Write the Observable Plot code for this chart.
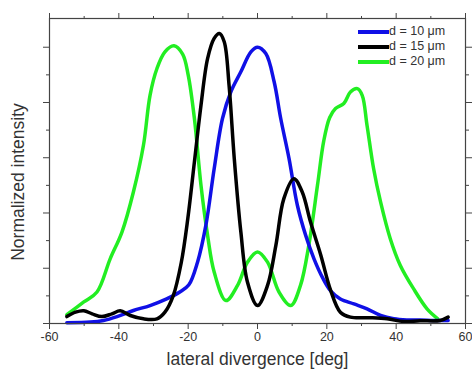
<!DOCTYPE html>
<html>
<head>
<meta charset="utf-8">
<script src="https://cdn.jsdelivr.net/npm/d3@7"></script>
<script src="https://cdn.jsdelivr.net/npm/@observablehq/plot@0.6"></script>
<style>
  html, body { margin: 0; padding: 0; background: #fff; }
  #wrap { position: relative; width: 472px; height: 372px; font-family: "Liberation Sans", Arial, sans-serif; }
  #legend { position: absolute; left: 358px; top: 24px; font-size: 12.5px; color: #333; line-height: 15px; }
  #legend .row { display: flex; align-items: center; height: 15px; }
  #legend .sw { width: 31px; height: 4px; margin-right: 0px; }
</style>
</head>
<body>
<div id="wrap"><div id="legend"></div></div>
<script>
// ---- data ----
const seriesNames = ["d = 10 μm", "d = 15 μm", "d = 20 μm"];
const seriesColors = ["#1010e6", "#000000", "#22ee22"];

const blueX = [-55, -48.2, -44.4, -40.5, -35.8, -31, -26.2, -22.3, -19.8, -17.3, -14.9, -12.5, -10.1, -7.7, -4.8, -1.9, 0, 2.4, 4.8, 6.7, 9.1, 11.5, 13.9, 16.3, 18.8, 21.1, 23.9, 27.8, 31.6, 35.5, 39.3, 43.1, 46.9, 50.8, 55];
const blueY = [0.003, 0.005, 0.011, 0.025, 0.047, 0.065, 0.089, 0.115, 0.14, 0.222, 0.355, 0.56, 0.742, 0.838, 0.911, 0.983, 1.0, 0.977, 0.875, 0.742, 0.597, 0.428, 0.319, 0.234, 0.165, 0.118, 0.089, 0.071, 0.053, 0.029, 0.017, 0.013, 0.013, 0.011, 0.011];

const blackX = [-55, -52.5, -50.1, -47.7, -44.9, -42, -39.6, -36.7, -32.9, -29, -26.7, -24.3, -22, -20.1, -18.2, -16.3, -14.4, -12.5, -11, -9.6, -8.2, -6.7, -4.8, -2.9, 0, 2.9, 5.3, 7.6, 10.5, 12.9, 15.3, 18.2, 21.1, 23.9, 26.8, 32.6, 37.4, 42.2, 46.9, 52.7, 55];
const blackY = [0.025, 0.041, 0.046, 0.035, 0.025, 0.035, 0.046, 0.029, 0.017, 0.017, 0.041, 0.101, 0.22, 0.38, 0.585, 0.79, 0.959, 1.032, 1.05, 1.02, 0.862, 0.597, 0.331, 0.15, 0.065, 0.138, 0.283, 0.452, 0.524, 0.476, 0.367, 0.25, 0.12, 0.041, 0.023, 0.021, 0.017, 0.007, 0.01, 0.011, 0.023];

const greenX = [-55, -50.1, -46.3, -42.5, -39.1, -35.8, -32.9, -31, -29, -26.7, -24.1, -21.6, -20, -18.2, -16.3, -14.4, -12.5, -9.1, -5.75, -2.9, 0, 2.9, 6.2, 9.6, 12.4, 14.8, 17.3, 19.1, 20.8, 22.5, 24.9, 26.8, 28.8, 30.2, 31.6, 33.5, 35.5, 38.3, 41.2, 45, 48.9, 52];
const greenY = [0.032, 0.078, 0.114, 0.234, 0.331, 0.476, 0.645, 0.826, 0.923, 0.983, 1.005, 0.975, 0.9, 0.742, 0.5, 0.319, 0.186, 0.083, 0.138, 0.222, 0.259, 0.222, 0.114, 0.065, 0.138, 0.283, 0.5, 0.66, 0.745, 0.778, 0.796, 0.838, 0.85, 0.826, 0.717, 0.56, 0.44, 0.307, 0.21, 0.126, 0.053, 0.017];

const xMajorTicks = [-60, -40, -20, 0, 20, 40, 60];
const xMinorTicks = [-50, -30, -10, 10, 30, 50];
const yMajorTicks = [0, 0.2, 0.4, 0.6, 0.8, 1.0];
const yMinorTicks = [0.1, 0.3, 0.5, 0.7, 0.9];
const xLabel = "lateral divergence [deg]";
const yLabel = "Normalized intensity";

// ---- build ----
const toRows = (xs, ys, s) => xs.map((x, i) => ({x, y: ys[i], s}));
const blue = toRows(blueX, blueY, seriesNames[0]);
const black = toRows(blackX, blackY, seriesNames[1]);
const green = toRows(greenX, greenY, seriesNames[2]);

const axisColor = "#444";
const lw = 3.5;

const chart = Plot.plot({
  width: 472,
  height: 372,
  marginLeft: 49,
  marginRight: 7,
  marginTop: 18,
  marginBottom: 49,
  style: {fontFamily: "'Liberation Sans', Arial, sans-serif", background: "#fff"},
  x: {domain: [-60, 60]},
  y: {domain: [0, 1.104]},
  marks: [
    Plot.line(green, {x: "x", y: "y", stroke: seriesColors[2], strokeWidth: lw, curve: "catmull-rom"}),
    Plot.line(blue, {x: "x", y: "y", stroke: seriesColors[0], strokeWidth: lw, curve: "catmull-rom"}),
    Plot.line(black, {x: "x", y: "y", stroke: seriesColors[1], strokeWidth: lw, curve: "catmull-rom"}),
    Plot.frame({stroke: axisColor, strokeWidth: 1.2}),
    Plot.axisX({anchor: "bottom", ticks: xMajorTicks, tickSize: 6, tickPadding: 3, tickFormat: d => String(d), fontSize: 12.5, color: "#333", label: null, stroke: axisColor}),
    Plot.axisX({anchor: "bottom", ticks: xMinorTicks, tickSize: 3, text: null, label: null, stroke: axisColor}),
    Plot.axisX({anchor: "top", ticks: xMajorTicks, tickSize: 6, text: null, label: null, stroke: axisColor}),
    Plot.axisX({anchor: "top", ticks: xMinorTicks, tickSize: 3, text: null, label: null, stroke: axisColor}),
    Plot.axisY({anchor: "left", ticks: yMajorTicks, tickSize: 6, text: null, label: null, stroke: axisColor}),
    Plot.axisY({anchor: "left", ticks: yMinorTicks, tickSize: 3, text: null, label: null, stroke: axisColor}),
    Plot.axisY({anchor: "right", ticks: yMajorTicks, tickSize: 6, text: null, label: null, stroke: axisColor}),
    Plot.axisY({anchor: "right", ticks: yMinorTicks, tickSize: 3, text: null, label: null, stroke: axisColor}),
    Plot.text([xLabel], {frameAnchor: "bottom", dy: 41, fontSize: 17.5, fill: "#333", text: d => d}),
    Plot.text([yLabel], {frameAnchor: "left", textAnchor: "middle", dx: -31, dy: 11, rotate: -90, fontSize: 17.5, fill: "#333", text: d => d})
  ]
});
document.getElementById("wrap").prepend(chart);

// legend
const legend = document.getElementById("legend");
seriesNames.forEach((name, i) => {
  const row = document.createElement("div");
  row.className = "row";
  const sw = document.createElement("div");
  sw.className = "sw";
  sw.style.background = seriesColors[i];
  const t = document.createElement("span");
  t.textContent = name;
  row.appendChild(sw);
  row.appendChild(t);
  legend.appendChild(row);
});
</script>
</body>
</html>
